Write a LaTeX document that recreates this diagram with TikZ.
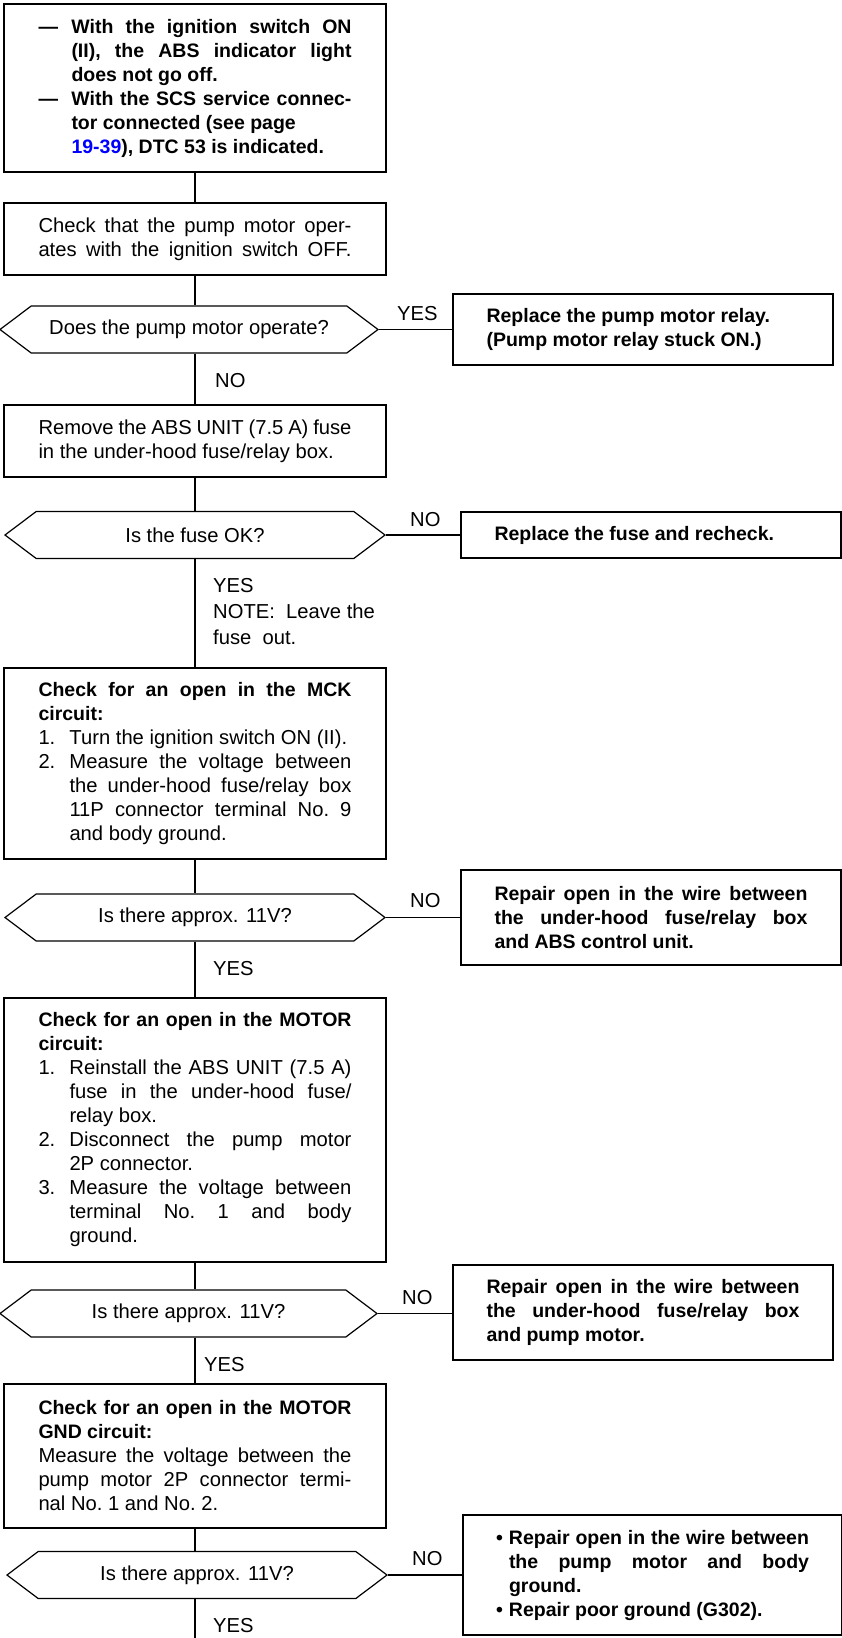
\documentclass[tikz,border=0pt]{standalone}
\usepackage{fontspec}
\setmainfont{Liberation Sans}
\usetikzlibrary{shapes.symbols}
\setlength{\parindent}{0pt}
\tolerance=9999
\hbadness=10000
\hyphenpenalty=10000
\exhyphenpenalty=10000
\newcommand{\hangitem}[2]{\hangindent=#1\hangafter=1\makebox[#1][l]{#2}}
\newcommand{\headfont}{\fontsize{19.5}{24}\selectfont\bfseries}
\begin{document}
\begin{tikzpicture}[x=1pt, y=-1pt,
    font=\fontsize{20.2}{24}\selectfont,
    box/.style={rectangle, draw, line width=1.2pt, minimum width=382pt, text width=313pt, align=justify, inner sep=0pt},
    rbox/.style={box, minimum width=380pt, font=\headfont},
    decision/.style={signal, signal to=west and east, signal pointer angle=74, draw, line width=1.2pt, minimum width=378pt, minimum height=47pt, inner sep=0pt},
    answer/.style={anchor=base west, inner sep=0pt},
    link/.style={line width=1.2pt}
]
    \useasboundingbox (0,0) rectangle (842,1638);

    \node[box, minimum height=168pt, font=\headfont] (symptom) at (195,88) {
        \hangitem{33pt}{—}With the ignition switch ON\linebreak (II), the ABS indicator light\linebreak does not go off.\par
        \hangitem{33pt}{—}With the SCS service connec-\linebreak tor connected (see page\newline {\color{blue}19-39}), DTC 53 is indicated.\par};
    \node[box, minimum height=72pt] (pumpcheck) at (195,239) {\parfillskip=0pt Check that the pump motor oper-\linebreak ates with the ignition switch OFF.\par};
    \node[decision] (pumpq) at (189,329.5) {Does the pump motor operate?};
    \node[rbox, minimum height=71pt] (relay) at (643,329.5) {Replace the pump motor relay.\newline (Pump motor relay stuck ON.)};
    \node[box, minimum height=72pt] (fuseout) at (195,441) {Remove the ABS UNIT (7.5 A) fuse\linebreak in the under-hood fuse/relay box.};
    \node[decision, minimum width=380pt] (fuseq) at (195,535) {Is the fuse OK?};
    \node[rbox, minimum height=46pt] (newfuse) at (651,535) {Replace the fuse and recheck.};
    \node[box, minimum height=191pt] (mck) at (195,763.5) {{\headfont Check for an open in the MCK\linebreak circuit:\par}
        \hangitem{31pt}{1.}Turn the ignition switch ON (II).\par
        \hangitem{31pt}{2.}Measure the voltage between\linebreak the under-hood fuse/relay box\linebreak 11P connector terminal No.~9\linebreak and body ground.\par};
    \node[decision, minimum width=380pt] (mckq) at (195,917.5) {Is there approx. 11V?};
    \node[rbox, minimum height=95pt] (mckfix) at (651,917.5) {Repair open in the wire between\linebreak the under-hood fuse/relay box\linebreak and ABS control unit.};
    \node[box, minimum height=264pt] (motor) at (195,1130) {{\headfont Check for an open in the MOTOR\linebreak circuit:\par}
        \hangitem{31pt}{1.}Reinstall the ABS UNIT (7.5 A)\linebreak fuse in the under-hood fuse/\linebreak relay box.\par
        \hangitem{31pt}{2.}Disconnect the pump motor\linebreak 2P connector.\par
        \hangitem{31pt}{3.}Measure the voltage between\linebreak terminal No.~1 and body\linebreak ground.\par};
    \node[decision, minimum width=377pt] (motorq) at (188.5,1313.5) {Is there approx. 11V?};
    \node[rbox, minimum height=95pt] (motorfix) at (643,1312.5) {Repair open in the wire between\linebreak the under-hood fuse/relay box\linebreak and pump motor.};
    \node[box, minimum height=144pt] (gnd) at (195,1456) {{\headfont Check for an open in the MOTOR\linebreak GND circuit:\par}
        Measure the voltage between the\linebreak pump motor 2P connector termi-\linebreak nal No.~1 and No.~2.\par};
    \node[decision, minimum width=380pt] (gndq) at (197,1575) {Is there approx. 11V?};
    \node[rbox, minimum width=379pt, minimum height=120pt] (gndfix) at (652.5,1575) {
        \hangitem{13pt}{•}Repair open in the wire between\linebreak the pump motor and body\linebreak ground.\par
        \hangitem{13pt}{•}Repair poor ground (G302).\par};
    \coordinate (bottom) at (195,1638);

    \node[answer] (yes1) at (397,320) {YES};
    \node[answer] (no1) at (215,387) {NO};
    \node[answer] (no2) at (410,526) {NO};
    \node[anchor=north west, inner sep=0pt, align=left, font=\fontsize{20.2}{26}\selectfont] (yes2) at (213,578) {YES\\NOTE:~~Leave the\\fuse~~out.};
    \node[answer] (no3) at (410,907) {NO};
    \node[answer] (yes3) at (213,975) {YES};
    \node[answer] (no4) at (402,1304) {NO};
    \node[answer] (yes4) at (204,1371) {YES};
    \node[answer] (no5) at (412,1565) {NO};
    \node[answer] (yes5) at (213,1632) {YES};

    \draw[link] (symptom) -- (pumpcheck);
    \draw[link] (pumpcheck.south) -- (pumpcheck.south |- pumpq.north);
    \draw[link] (fuseout.north |- pumpq.south) -- (fuseout.north);
    \draw[link] (pumpq.east) -- (relay.west);
    \draw[link] (fuseout.south) -- (fuseout.south |- fuseq.north);
    \draw[link] (mck.north |- fuseq.south) -- (mck.north);
    \draw[link] (fuseq.east) -- (newfuse.west);
    \draw[link] (mck.south) -- (mck.south |- mckq.north);
    \draw[link] (motor.north |- mckq.south) -- (motor.north);
    \draw[link] (mckq.east) -- (mckfix.west);
    \draw[link] (motor.south) -- (motor.south |- motorq.north);
    \draw[link] (gnd.north |- motorq.south) -- (gnd.north);
    \draw[link] (motorq.east) -- (motorq.east -| motorfix.west);
    \draw[link] (gnd.south) -- (gnd.south |- gndq.north);
    \draw[link] (bottom |- gndq.south) -- (bottom);
    \draw[link] (gndq.east) -- (gndfix.west);
\end{tikzpicture}
\end{document}
